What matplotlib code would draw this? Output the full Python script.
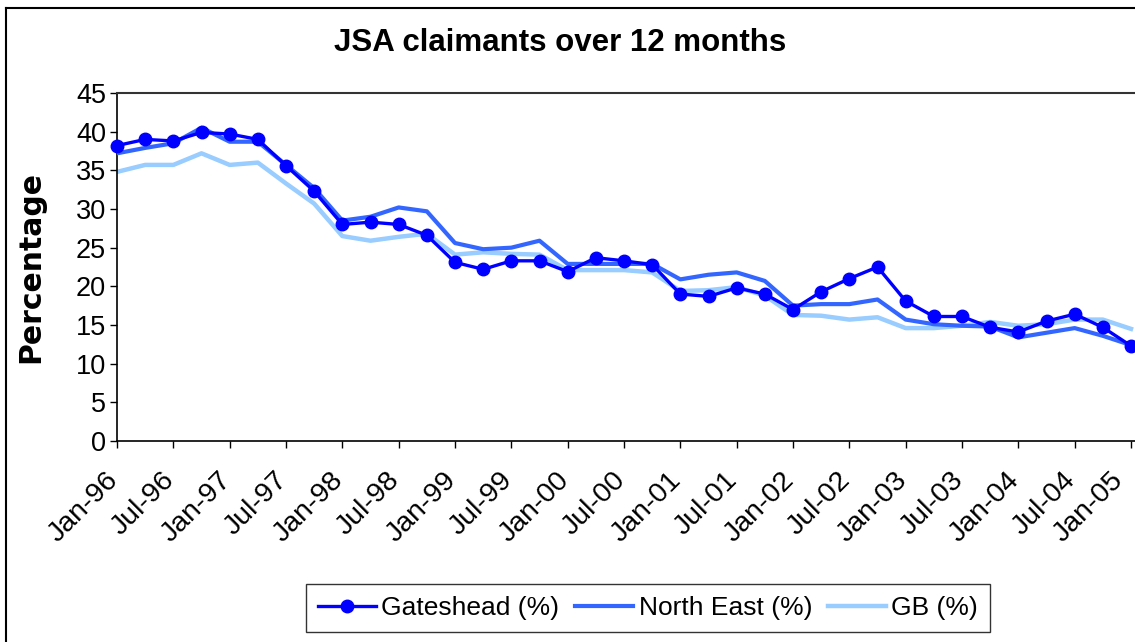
import matplotlib
matplotlib.use("Agg")
import matplotlib.pyplot as plt
from matplotlib.lines import Line2D
import matplotlib.transforms as mtransforms

# ---- data (quarterly, Jan-96 .. Jan-05) ----
quarters = ["Jan-96", "Apr-96", "Jul-96", "Oct-96", "Jan-97", "Apr-97", "Jul-97", "Oct-97",
            "Jan-98", "Apr-98", "Jul-98", "Oct-98", "Jan-99", "Apr-99", "Jul-99", "Oct-99",
            "Jan-00", "Apr-00", "Jul-00", "Oct-00", "Jan-01", "Apr-01", "Jul-01", "Oct-01",
            "Jan-02", "Apr-02", "Jul-02", "Oct-02", "Jan-03", "Apr-03", "Jul-03", "Oct-03",
            "Jan-04", "Apr-04", "Jul-04", "Oct-04", "Jan-05"]

gateshead = [38.2, 39.0, 38.8, 39.9, 39.7, 39.0, 35.6, 32.3, 28.0, 28.3, 28.0, 26.6,
             23.1, 22.2, 23.3, 23.3, 21.9, 23.7, 23.3, 22.8, 19.0, 18.7, 19.8, 19.0,
             17.0, 19.3, 21.0, 22.5, 18.1, 16.1, 16.1, 14.7, 14.1, 15.5, 16.4, 14.7, 12.3]

north_east = [37.2, 37.9, 38.5, 40.5, 38.7, 38.7, 35.7, 32.7, 28.5, 29.0, 30.2, 29.7,
              25.6, 24.8, 25.0, 25.9, 22.9, 22.9, 22.9, 22.9, 20.9, 21.5, 21.8, 20.7,
              17.5, 17.7, 17.7, 18.3, 15.7, 15.1, 14.9, 14.8, 13.4, 14.0, 14.6, 13.6, 12.4]

gb = [34.8, 35.7, 35.7, 37.2, 35.7, 36.0, 33.3, 30.7, 26.5, 25.9, 26.4, 26.8,
      24.1, 24.4, 24.2, 24.1, 22.1, 22.1, 22.1, 21.8, 19.4, 19.5, 19.9, 18.8,
      16.3, 16.2, 15.7, 16.0, 14.6, 14.6, 14.9, 15.4, 14.9, 15.1, 15.7, 15.7, 14.5]

tick_labels = quarters[::2]
y_ticks = list(range(0, 50, 5))

plt.rcParams['font.family'] = ['Liberation Sans', 'DejaVu Sans']

fig = plt.figure(figsize=(11.35, 6.42), dpi=100)
ax = fig.add_axes([117 / 1135, 1 - 441 / 642, (1135 - 117) / 1135, (441 - 93) / 642])

x = list(range(len(quarters)))
ax.plot(x, gb, color='#99CCFF', lw=3.2, label='GB (%)', zorder=2)
ax.plot(x, north_east, color='#3366FF', lw=3.0, label='North East (%)', zorder=3)
ax.plot(x, gateshead, color='#0000FF', lw=2.4, marker='o', ms=9, label='Gateshead (%)',
        zorder=4, clip_on=False)

n = len(quarters) - 1
ax.set_xlim(0, n * (1135 - 117) / (1131 - 117))
ax.set_ylim(0, 45)
ax.set_yticks(y_ticks)
ax.set_yticklabels([str(v) for v in y_ticks], fontsize=19.5)
ax.set_xticks(x[::2])
ax.set_xticklabels(tick_labels, fontsize=20.5, rotation=45, ha='right', rotation_mode='anchor')
ax.tick_params(axis='x', direction='out', length=5, width=1, pad=14)
ax.tick_params(axis='y', direction='out', length=5, width=1, pad=3)

xlabels = ax.get_xticklabels()
for i, lab in enumerate(xlabels):
    shift = -12 if i < len(xlabels) - 1 else -21
    offset = mtransforms.ScaledTranslation(shift / 100, 0, fig.dpi_scale_trans)
    lab.set_transform(lab.get_transform() + offset)

for s in ['left', 'bottom']:
    ax.spines[s].set_linewidth(1.2)
    ax.spines[s].set_color('black')
ax.spines['top'].set_linewidth(1.5)
ax.spines['top'].set_color('#333333')
ax.spines['right'].set_visible(False)

ax.set_ylabel('Percentage', fontsize=21.5, fontweight='bold', family='DejaVu Sans')
ax.yaxis.set_label_coords(-(117 - 45) / (1135 - 117), 0.5)

fig.text(560 / 1135, 1 - 43 / 642, 'JSA claimants over 12 months', fontsize=22.5,
         fontweight='bold', ha='center', va='center')

handles, labels = ax.get_legend_handles_labels()
order = [2, 1, 0]
leg = fig.legend([handles[i] for i in order], [labels[i] for i in order],
                 loc='center', bbox_to_anchor=(648 / 1135, 1 - 608 / 642), ncol=3,
                 fontsize=19, frameon=True, fancybox=False, handlelength=2.2,
                 columnspacing=0.6, handletextpad=0.2, borderpad=0.45)
leg.get_frame().set_edgecolor('black')
leg.get_frame().set_linewidth(1.0)

# outer chart border (left and top visible)
fig.add_artist(Line2D([6 / 1135, 6 / 1135], [0, 1 - 8 / 642], transform=fig.transFigure,
                      color='black', lw=1.5))
fig.add_artist(Line2D([6 / 1135, 1], [1 - 8 / 642, 1 - 8 / 642], transform=fig.transFigure,
                      color='black', lw=1.5))

fig.savefig('out.png', dpi=100)
